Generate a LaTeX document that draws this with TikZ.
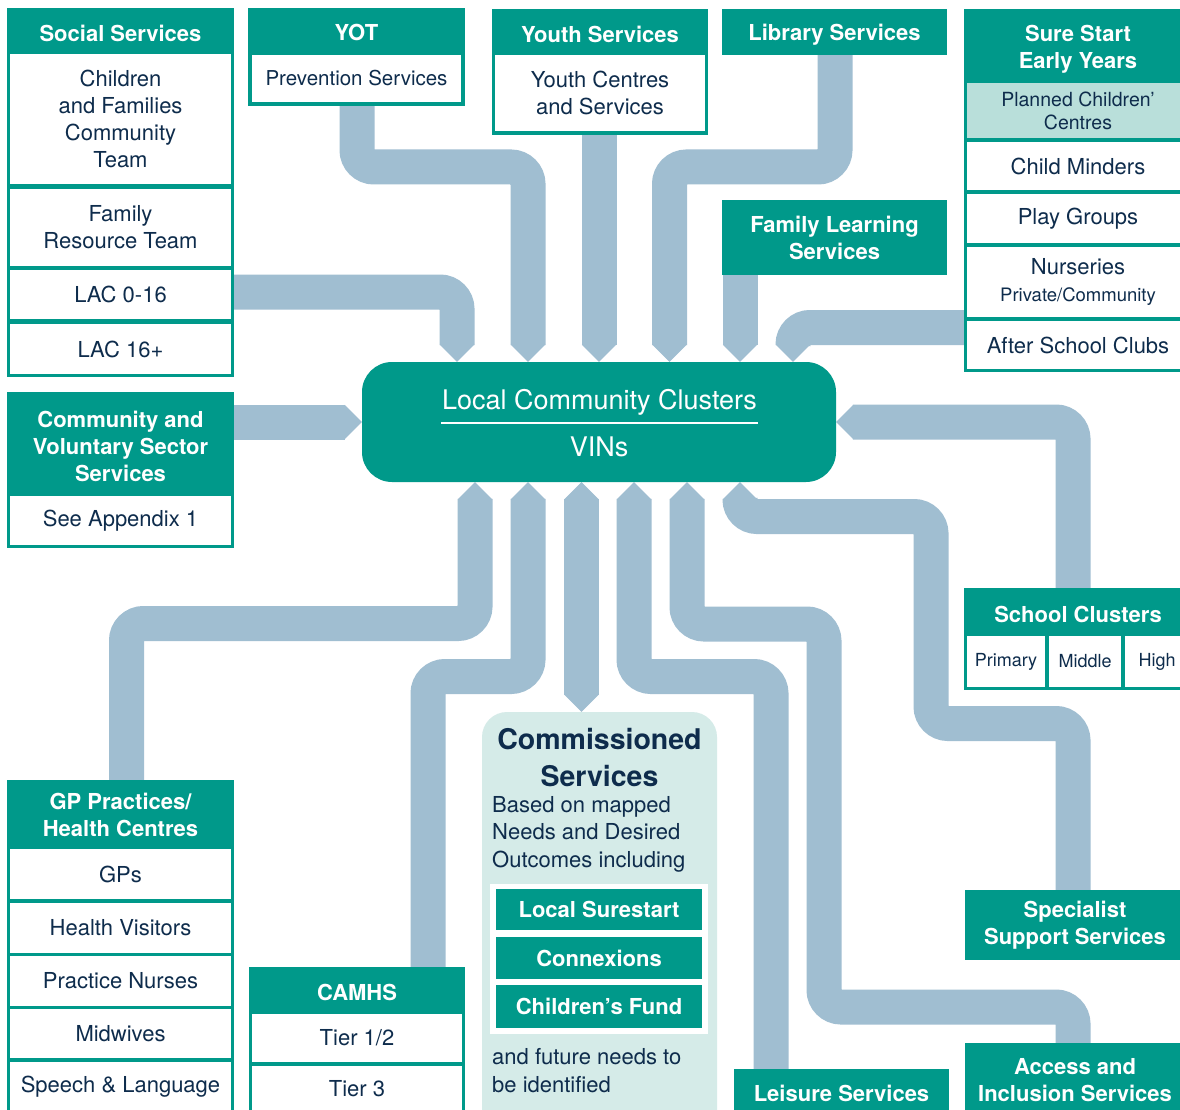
\documentclass[tikz,border=0pt]{standalone}
\usepackage{fontspec}
\setmainfont{TeX Gyre Heros}
\usetikzlibrary{arrows.meta}
\definecolor{tl}{HTML}{00998A}
\definecolor{pp}{HTML}{A0BED1}
\definecolor{nv}{HTML}{0E2C4C}
\definecolor{lt}{HTML}{B9DFDA}
\definecolor{cf}{HTML}{D5EBE8}
\pgfdeclarelayer{back}
\pgfdeclarelayer{bg}
\pgfsetlayers{back,bg,main}
\newcommand\rbox[7]{%
  \pgfmathsetmacro\rbw{#5-#3}\pgfmathsetmacro\rbh{#6-#4}%
  \pgfmathsetmacro\rbx{(#3+#5)/2}\pgfmathsetmacro\rby{(#4+#6)/2}%
  \node[#2, minimum width=\rbw pt, minimum height=\rbh pt] (#1) at (\rbx,\rby) {#7};}
\begin{document}
\begin{tikzpicture}[x=1pt,y=-1pt,
  hdr/.style={fill=tl,text=white,font=\fontsize{22}{27}\selectfont\bfseries,align=center,inner sep=0pt,outer sep=0pt},
  cel/.style={fill=white,text=nv,font=\fontsize{22}{27}\selectfont,align=center,inner sep=0pt,outer sep=0pt},
  outerbox/.style={fill=tl,inner sep=0pt,outer sep=0pt},
  pipe/.style={draw=pp,line width=35pt,rounded corners=17pt,>={Triangle[width=34pt,length=17pt,line width=1pt]}},
]
\useasboundingbox (0,0) rectangle (1180,1110);
\begin{pgfonlayer}{back}
\fill[white] (0,0) rectangle (1180,1110);
\end{pgfonlayer}

% Social Services
\rbox{ss}{outerbox}{7}{8}{234}{377}{}
\rbox{ssh}{hdr,yshift=-3pt}{7}{8}{234}{52}{Social Services}
\rbox{ss1}{cel}{10}{54}{231}{184}{Children\\and Families\\Community\\Team}
\rbox{ss2}{cel}{10}{189}{231}{266}{Family\\Resource Team}
\rbox{ss3}{cel}{10}{270}{231}{319}{LAC 0-16}
\rbox{ss4}{cel}{10}{324}{231}{374}{LAC 16+}

% YOT
\rbox{yot}{outerbox}{248}{8}{465}{106}{}
\rbox{yoth}{hdr,yshift=-2pt}{248}{8}{465}{53}{YOT}
\rbox{yot1}{cel,font=\fontsize{20.5}{25}\selectfont}{252}{55}{461}{102}{Prevention Services}

% Youth Services
\rbox{ys}{outerbox}{492}{9}{708}{135}{}
\rbox{ysh}{hdr,yshift=-3pt}{492}{9}{708}{53}{Youth Services}
\rbox{ys1}{cel}{495}{55}{705}{131}{Youth Centres\\and Services}

% Library, Family Learning
\rbox{lib}{hdr,text depth=0pt}{722}{9}{947}{55}{Library Services}
\rbox{fl}{hdr}{722}{200}{947}{275}{Family Learning\\Services}

% Sure Start
\rbox{sure}{outerbox}{964}{9}{1192}{372}{}
\rbox{sureh}{hdr,yshift=-4pt}{964}{9}{1192}{82}{Sure Start\\Early Years}
\rbox{sure1}{cel,fill=lt,font=\fontsize{19.5}{23}\selectfont}{967}{83}{1189}{138}{Planned Children’\\Centres}
\rbox{sure2}{cel}{967}{142}{1189}{190}{Child Minders}
\rbox{sure3}{cel}{967}{194}{1189}{243}{Play Groups}
\rbox{sure4}{cel}{967}{247}{1189}{317}{Nurseries\\{\fontsize{18.5}{22}\selectfont Private/Community}}
\rbox{sure5}{cel}{967}{321}{1189}{369}{After School Clubs}

% Community and Voluntary
\rbox{cvs}{outerbox}{7}{392}{234}{548}{}
\rbox{cvsh}{hdr,yshift=-4pt}{7}{392}{234}{493}{Community and\\Voluntary Sector\\Services}
\rbox{cvs1}{cel}{10}{496}{231}{545}{See Appendix 1}

% School Clusters
\rbox{sc}{outerbox}{964}{588}{1192}{690}{}
\rbox{sch}{hdr,yshift=-4pt}{964}{588}{1192}{633}{School Clusters}
\rbox{sc1}{cel,font=\fontsize{18}{22}\selectfont}{967}{636}{1045}{687}{Primary}
\rbox{sc2}{cel,font=\fontsize{18}{22}\selectfont}{1049}{636}{1121}{687}{Middle}
\rbox{sc3}{cel,font=\fontsize{18}{22}\selectfont}{1125}{636}{1189}{687}{High}

% GP Practices
\rbox{gp}{outerbox}{7}{780}{234}{1120}{}
\rbox{gph}{hdr,yshift=-1pt}{7}{780}{234}{847}{GP Practices/\\Health Centres}
\rbox{gp1}{cel}{10}{849}{231}{899}{GPs}
\rbox{gp2}{cel}{10}{903}{231}{953}{Health Visitors}
\rbox{gp3}{cel}{10}{956}{231}{1006}{Practice Nurses}
\rbox{gp4}{cel}{10}{1009}{231}{1058}{Midwives}
\rbox{gp5}{cel}{10}{1062}{231}{1112}{Speech \& Language}

% CAMHS
\rbox{camhs}{outerbox}{249}{967}{465}{1120}{}
\rbox{camhsh}{hdr,yshift=-3pt}{249}{967}{465}{1012}{CAMHS}
\rbox{camhs1}{cel}{252}{1014}{462}{1062}{Tier 1/2}
\rbox{camhs2}{cel}{252}{1066}{462}{1112}{Tier 3}

% Leisure, Access, Specialist
\rbox{leis}{hdr}{734}{1069}{949}{1117}{Leisure Services}
\rbox{acc}{hdr}{965}{1043}{1185}{1117}{Access and\\Inclusion Services}
\rbox{spec}{hdr}{965}{890}{1185}{960}{Specialist\\Support Services}

% Commissioned Services
\node[fill=cf, rounded corners=25pt, inner sep=0pt, minimum width=235pt, minimum height=428pt] (cs) at (599.5,926) {};
\node[text=nv, font=\fontsize{28.5}{37}\selectfont\bfseries, align=center, inner sep=0pt] (cst) at (599.5,757.5) {Commissioned\\Services};
\node[text=nv, font=\fontsize{22}{27.5}\selectfont, align=left, anchor=west, inner sep=0pt] (csb) at (492,834) {Based on mapped\\Needs and Desired\\Outcomes including};
\rbox{csw}{cel}{490}{884}{708}{1034}{}
\rbox{cs1}{hdr}{496}{889}{702}{930}{Local Surestart}
\rbox{cs2}{hdr}{496}{937}{702}{979}{Connexions}
\rbox{cs3}{hdr}{496}{985}{702}{1028}{Children’s Fund}
\node[text=nv, font=\fontsize{22}{27.5}\selectfont, align=left, anchor=west, inner sep=0pt] (csf) at (492,1070.5) {and future needs to\\be identified};

% Central box
\node[fill=tl, rounded corners=30pt, inner sep=0pt, minimum width=474pt, minimum height=120pt] (lcc) at (599,422) {};
\node[text=white, font=\fontsize{27}{32}\selectfont, inner sep=0pt] (lcct) at (599.5,402) {Local Community Clusters};
\draw[white, line width=2pt] (441,422.5) -- (758,422.5);
\node[text=white, font=\fontsize{27}{32}\selectfont, inner sep=0pt] (vins) at (599,447) {VINs};

% Pipes
\begin{pgfonlayer}{bg}
\draw[pipe,->] (ss.east |- 0,292) -- (457,292) -- (lcc.north -| 457,0);
\draw[pipe,->] (yot.south -| 357,0) -- (357,167) -- (528,167) -- (lcc.north -| 528,0);
\draw[pipe,->] (ys.south -| 599,0) -- (lcc.north -| 599,0);
\draw[pipe,->] (lib.south -| 835,0) -- (835,167) -- (669.5,167) -- (lcc.north -| 669.5,0);
\draw[pipe,->] (fl.south -| 740,0) -- (lcc.north -| 740,0);
\draw[pipe,->] (sure.west |- 0,327.5) -- (793,327.5) -- (lcc.north -| 793,0);
\draw[pipe,->] (cvs.east |- 0,422) -- (lcc.west |- 0,422);
\draw[pipe,->] (sc.north -| 1073,0) -- (1073,422) -- (lcc.east |- 0,422);
\draw[pipe,->] (gp.north -| 126.5,0) -- (126.5,623.5) -- (475,623.5) -- (lcc.south -| 475,0);
\draw[pipe,->] (camhs.north -| 428,0) -- (428,676.5) -- (528,676.5) -- (lcc.south -| 528,0);
\draw[pipe,<->] (lcc.south -| 581.5,0) -- (cs.north -| 581.5,0);
\draw[pipe,->] (leis.north -| 771,0) -- (771,676.5) -- (634,676.5) -- (lcc.south -| 634,0);
\draw[pipe,->] (acc.north -| 1073,0) -- (1073,1007) -- (824,1007) -- (824,624) -- (687,624) -- (lcc.south -| 687,0);
\draw[pipe,->] (spec.north -| 1073,0) -- (1073,723.5) -- (931,723.5) -- (931,516.5) -- (740,516.5) -- (lcc.south -| 740,0);
\end{pgfonlayer}
\end{tikzpicture}
\end{document}
